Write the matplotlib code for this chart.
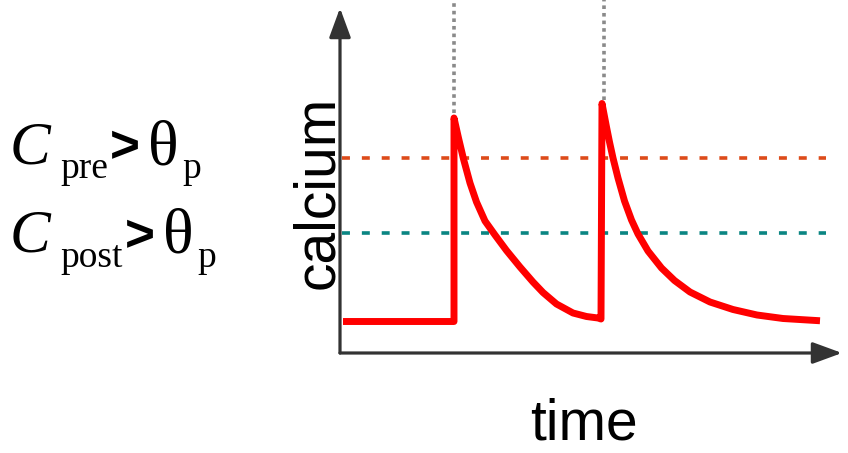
import matplotlib
matplotlib.use("Agg")
import matplotlib.pyplot as plt

# calcium trace (time, calcium in arbitrary units)
time = [0.06, 2.28, 2.28, 2.37, 2.47, 2.60, 2.73, 2.90, 3.10, 3.33, 3.60, 3.86, 4.06, 4.33,
        4.66, 4.93, 5.16, 5.22,
        5.24, 5.33, 5.39, 5.46, 5.56, 5.69, 5.83, 5.96, 6.16, 6.43, 6.69, 7.00, 7.40, 7.86,
        8.34, 8.86, 9.60]
calcium = [0.63, 0.63, 4.70, 4.30, 3.88, 3.40, 3.02, 2.64, 2.36, 2.05, 1.72, 1.42, 1.21, 0.98,
           0.80, 0.73, 0.70, 0.68,
           4.99, 4.52, 4.22, 3.90, 3.50, 3.04, 2.66, 2.38, 2.04, 1.70, 1.45, 1.22, 1.02, 0.87,
           0.76, 0.69, 0.645]
spike_times = [2.28, 5.28]
spike_tops = [4.80, 5.06]
theta_high = 3.90   # orange threshold
theta_low = 2.40    # teal threshold

W, H = 848, 453
fig = plt.figure(figsize=(W / 100, H / 100), dpi=100)


def px(x, y):
    return x / W, 1 - y / H


ax = fig.add_axes([340 / W, (H - 353) / H, 508 / W, 353 / H])
ax.set_xlim(0, 508 / 50)
ax.set_ylim(0, 353 / 50)
ax.axis("off")

# thresholds
ax.plot([0.04, 9.72], [theta_high, theta_high], color="#dd4b1a", lw=2.6,
        linestyle=(0, (2.2, 3.3)), solid_capstyle="butt")
ax.plot([0.04, 9.72], [theta_low, theta_low], color="#0a8582", lw=2.6,
        linestyle=(0, (2.2, 3.3)), solid_capstyle="butt")

# dotted guides above the spikes
for t, top in zip(spike_times, spike_tops):
    ax.plot([t, t], [top, 353 / 50], color="#8a8a8a", lw=2.6,
            linestyle=(0, (1, 1.1)), clip_on=False)

# calcium trace
ax.plot(time, calcium, color="#ff0000", lw=5.0, solid_joinstyle="round",
        solid_capstyle="butt", zorder=3)

# axes with arrows
arrow = dict(arrowstyle="-|>,head_length=0.9,head_width=0.33", color="#333333",
             lw=2.3, mutation_scale=20, shrinkA=0, shrinkB=0)
ax.annotate("", xy=(0, 6.9), xytext=(0, 0), arrowprops=arrow, annotation_clip=False)
ax.annotate("", xy=(10.04, 0), xytext=(0, 0), arrowprops=arrow, annotation_clip=False)

fig.text(*px(318, 192), "calcium", rotation=90, ha="center", va="center",
         fontsize=41, family="Liberation Sans")
fig.text(*px(584, 440), "time", ha="center", va="baseline",
         fontsize=41, family="Liberation Sans")

# conditions on the left
serif = "Liberation Serif"
for base, sub, x_sub, x_gt, x_th, x_p in [(163, "pre", 60, 110, 148, 182),
                                          (252, "post", 60, 125, 163, 197)]:
    fig.text(*px(10, base), "C", fontsize=44, style="italic", family=serif, va="baseline")
    fig.text(*px(x_sub, base + 15), sub, fontsize=27, family=serif, va="baseline")
    fig.text(*px(x_gt, base - 1), ">", fontsize=37, weight="bold",
             family="Liberation Sans", va="baseline")
    fig.text(*px(x_th, base + 1), "θ", fontsize=46, family=serif, va="baseline")
    fig.text(*px(x_p, base + 15), "p", fontsize=27, family=serif, va="baseline")

fig.savefig("out.png", dpi=100)
